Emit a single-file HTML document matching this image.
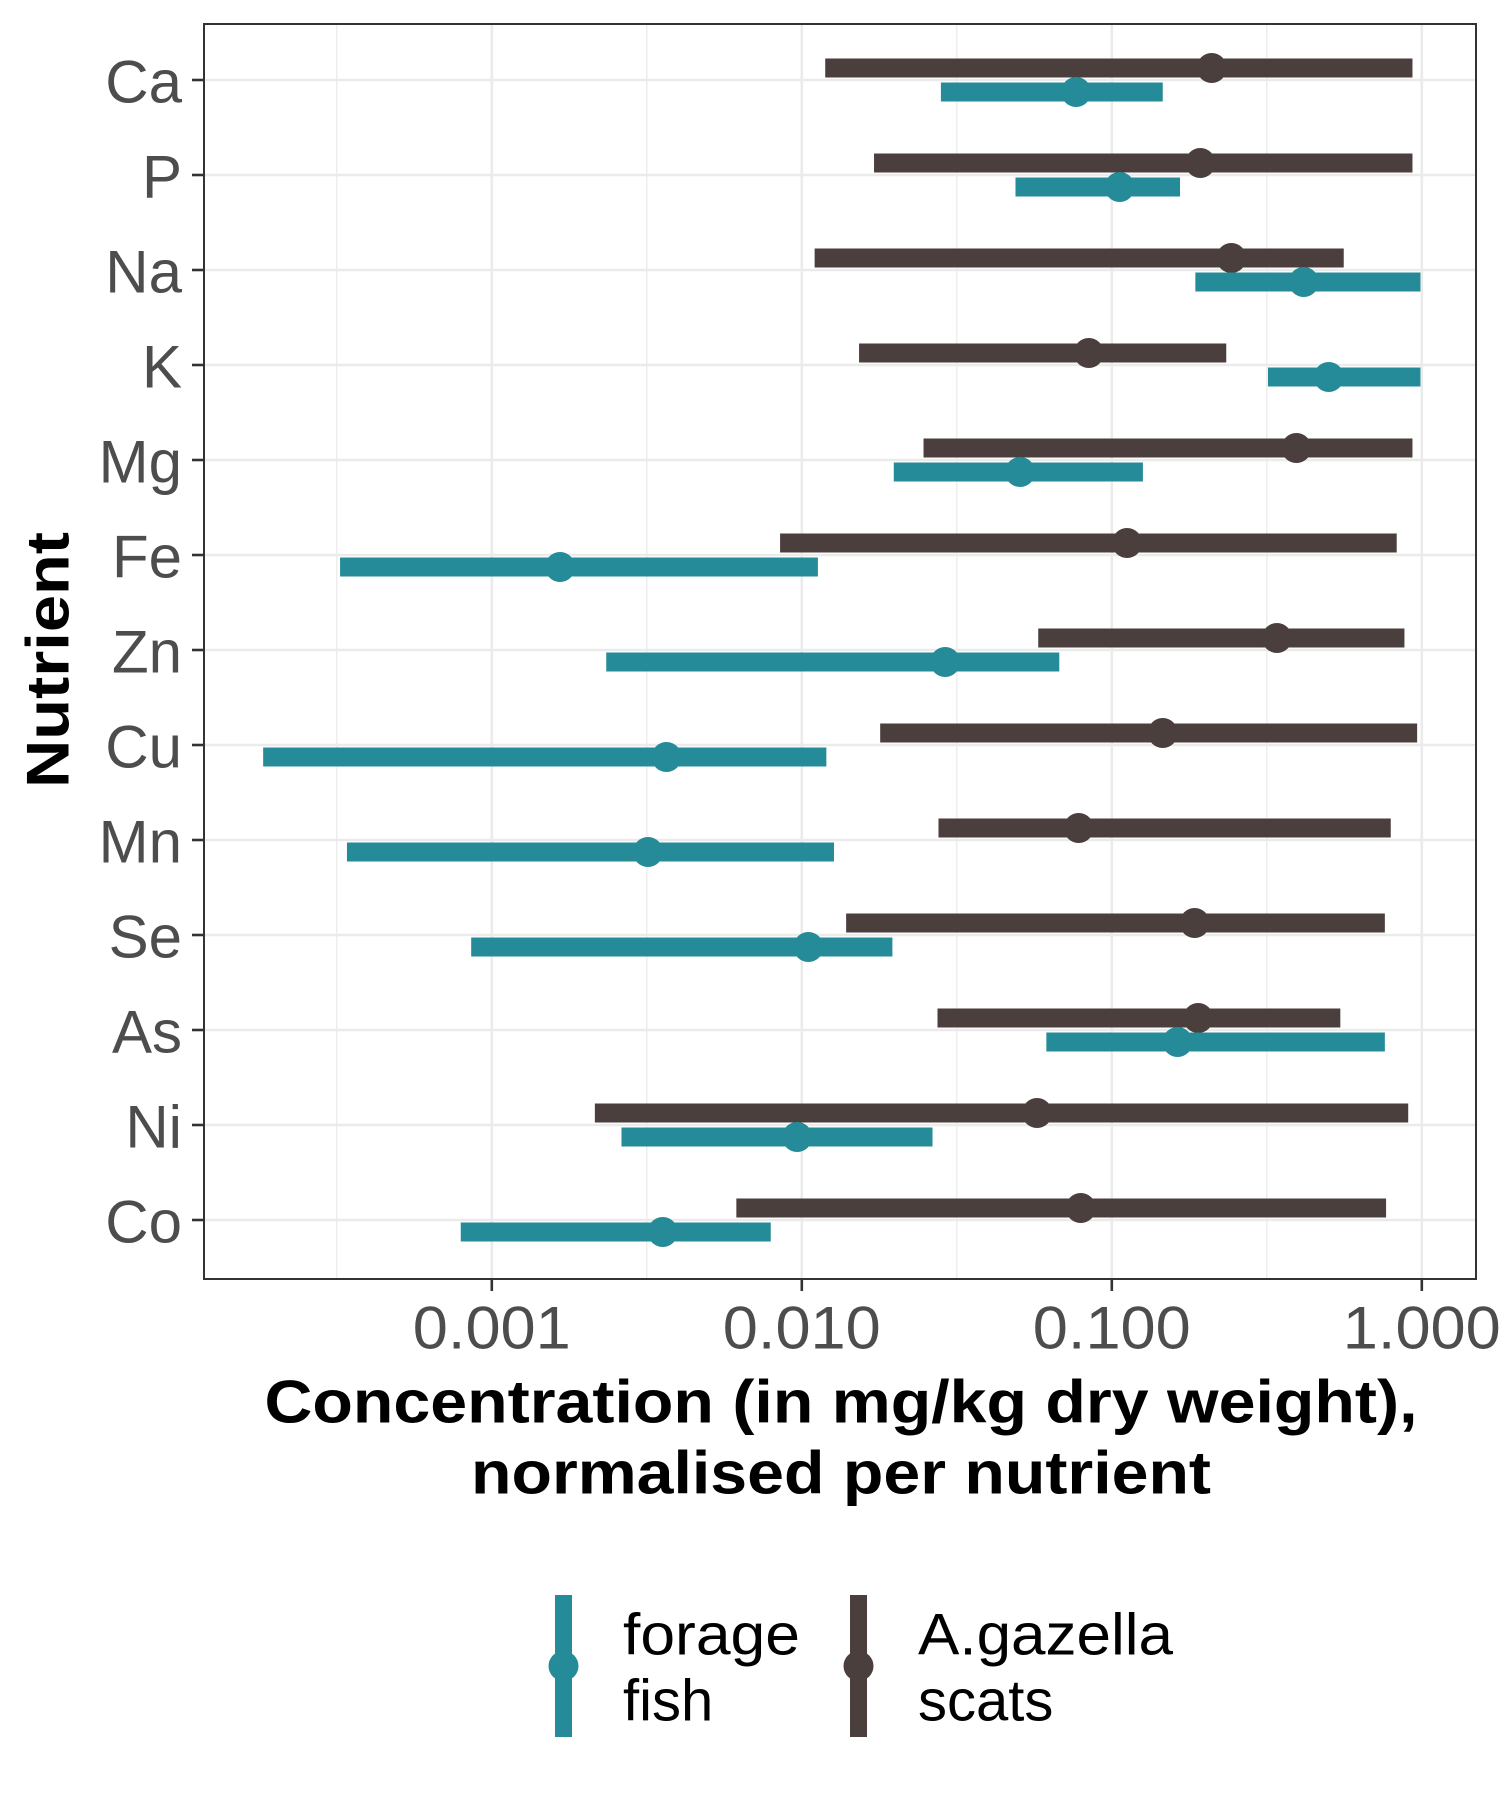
<!DOCTYPE html>
<html><head><meta charset="utf-8">
<style>
html,body{margin:0;padding:0;background:#fff;}
svg{display:block;font-family:"Liberation Sans",Arial,sans-serif;}
</style></head>
<body>
<svg id="chart" width="1500" height="1800" viewBox="0 0 1500 1800">
  <g id="grid"></g>
  <g id="marks"></g>
  <rect x="204" y="24" width="1272" height="1255" fill="none" stroke="#333" stroke-width="2"/>
  <g id="axes"></g>
  <text x="48" y="660" transform="rotate(-90 48 660)" text-anchor="middle" dominant-baseline="central" font-size="60" font-weight="bold" fill="#000" textLength="256" lengthAdjust="spacingAndGlyphs">Nutrient</text>
  <text x="841" y="1402" text-anchor="middle" dominant-baseline="central" font-size="60" font-weight="bold" fill="#000" textLength="1153" lengthAdjust="spacingAndGlyphs">Concentration (in mg/kg dry weight),</text>
  <text x="841" y="1473" text-anchor="middle" dominant-baseline="central" font-size="60" font-weight="bold" fill="#000" textLength="740" lengthAdjust="spacingAndGlyphs">normalised per nutrient</text>
  <g>
    <g>
      <rect x="555" y="1595" width="17" height="142" fill="#258b98"/>
      <circle cx="563.5" cy="1666" r="15" fill="#258b98"/>
      <text x="623" y="1635" font-size="58" fill="#000" dominant-baseline="central" textLength="177" lengthAdjust="spacingAndGlyphs">forage</text>
      <text x="623" y="1701" font-size="58" fill="#000" dominant-baseline="central">fish</text>
    </g>
    <g>
      <rect x="850" y="1595" width="17" height="142" fill="#4a3f3d"/>
      <circle cx="858.5" cy="1666" r="15" fill="#4a3f3d"/>
      <text x="918" y="1635" font-size="58" fill="#000" dominant-baseline="central" textLength="255" lengthAdjust="spacingAndGlyphs">A.gazella</text>
      <text x="918" y="1701" font-size="58" fill="#000" dominant-baseline="central">scats</text>
    </g>
  </g>
</svg>
<script>
const categories = ["Ca","P","Na","K","Mg","Fe","Zn","Cu","Mn","Se","As","Ni","Co"];
const scatsLow  = [0.0119,0.0171,0.0110,0.0153,0.0247,0.00851,0.0579,0.0179,0.0276,0.0139,0.0274,0.00215,0.00615];
const scatsHigh = [0.933,0.933,0.560,0.234,0.933,0.830,0.879,0.966,0.794,0.760,0.546,0.904,0.767];
const scatsMid  = [0.210,0.193,0.243,0.0843,0.394,0.112,0.341,0.146,0.0782,0.185,0.190,0.0574,0.0794];
const fishLow   = [0.0281,0.0489,0.186,0.319,0.0198,0.000324,0.00234,0.000183,0.000341,0.000858,0.0615,0.00262,0.000794];
const fishHigh  = [0.146,0.166,0.99,0.99,0.126,0.01127,0.0677,0.0120,0.0127,0.0196,0.760,0.0264,0.00794];
const fishMid   = [0.0767,0.106,0.416,0.501,0.0506,0.00166,0.0290,0.00366,0.00319,0.0105,0.163,0.00966,0.00356];
const xTickValues = [0.001,0.01,0.1,1];
const xTickLabels = ["0.001","0.010","0.100","1.000"];
const minorTicks = [-3.5,-2.5,-1.5,-0.5];

const NS="http://www.w3.org/2000/svg";
const FISH="#258b98", SCAT="#4a3f3d";
function xs(v){return 801.8+310*(Math.log10(v)+2);}
function xl(l){return 801.8+310*(l+2);}
function ys(i){return 80+95*i;}
function mk(tag,attrs,parent){const e=document.createElementNS(NS,tag);for(const k in attrs)e.setAttribute(k,attrs[k]);parent.appendChild(e);return e;}
const grid=document.getElementById('grid'), marks=document.getElementById('marks'), axes=document.getElementById('axes');

minorTicks.forEach(l=>{
  const e=mk('line',{x1:xl(l),x2:xl(l),y1:24,y2:1279,stroke:'#ebebeb','stroke-width':1.3},grid);
  
  
});
xTickValues.forEach((v,i)=>{
  const g=mk('line',{x1:xs(v),x2:xs(v),y1:24,y2:1279,stroke:'#ebebeb','stroke-width':2.6},grid);
  
  
  const t=mk('line',{x1:xs(v),x2:xs(v),y1:1279,y2:1291,stroke:'#333','stroke-width':2.6},axes);
  
  
  const tx=mk('text',{x:xs(v),y:1328,'text-anchor':'middle','dominant-baseline':'central','font-size':60,fill:'#4d4d4d',textLength:158,lengthAdjust:'spacingAndGlyphs'},axes);
  tx.textContent=xTickLabels[i];
  
  
});
categories.forEach((c,i)=>{
  const y=ys(i);
  const g=mk('line',{x1:204,x2:1476,y1:y,y2:y,stroke:'#ebebeb','stroke-width':2.6},grid);
  
  
  const t=mk('line',{x1:192,x2:204,y1:y,y2:y,stroke:'#333','stroke-width':2.6},axes);
  
  
  const tx=mk('text',{x:182,y:y+2,'text-anchor':'end','dominant-baseline':'central','font-size':60,fill:'#4d4d4d'},axes);
  tx.textContent=c;
  
  

  const ys1=y-12, yf=y+12;
  const b1=mk('rect',{x:xs(scatsLow[i]),y:ys1-9.5,width:xs(scatsHigh[i])-xs(scatsLow[i]),height:19,fill:SCAT},marks);
  
  
  const p1=mk('circle',{cx:xs(scatsMid[i]),cy:ys1,r:15,fill:SCAT},marks);
  
  
  const b2=mk('rect',{x:xs(fishLow[i]),y:yf-9.5,width:xs(fishHigh[i])-xs(fishLow[i]),height:19,fill:FISH},marks);
  
  
  const p2=mk('circle',{cx:xs(fishMid[i]),cy:yf,r:15,fill:FISH},marks);
  
  
});
</script>
</body></html>
